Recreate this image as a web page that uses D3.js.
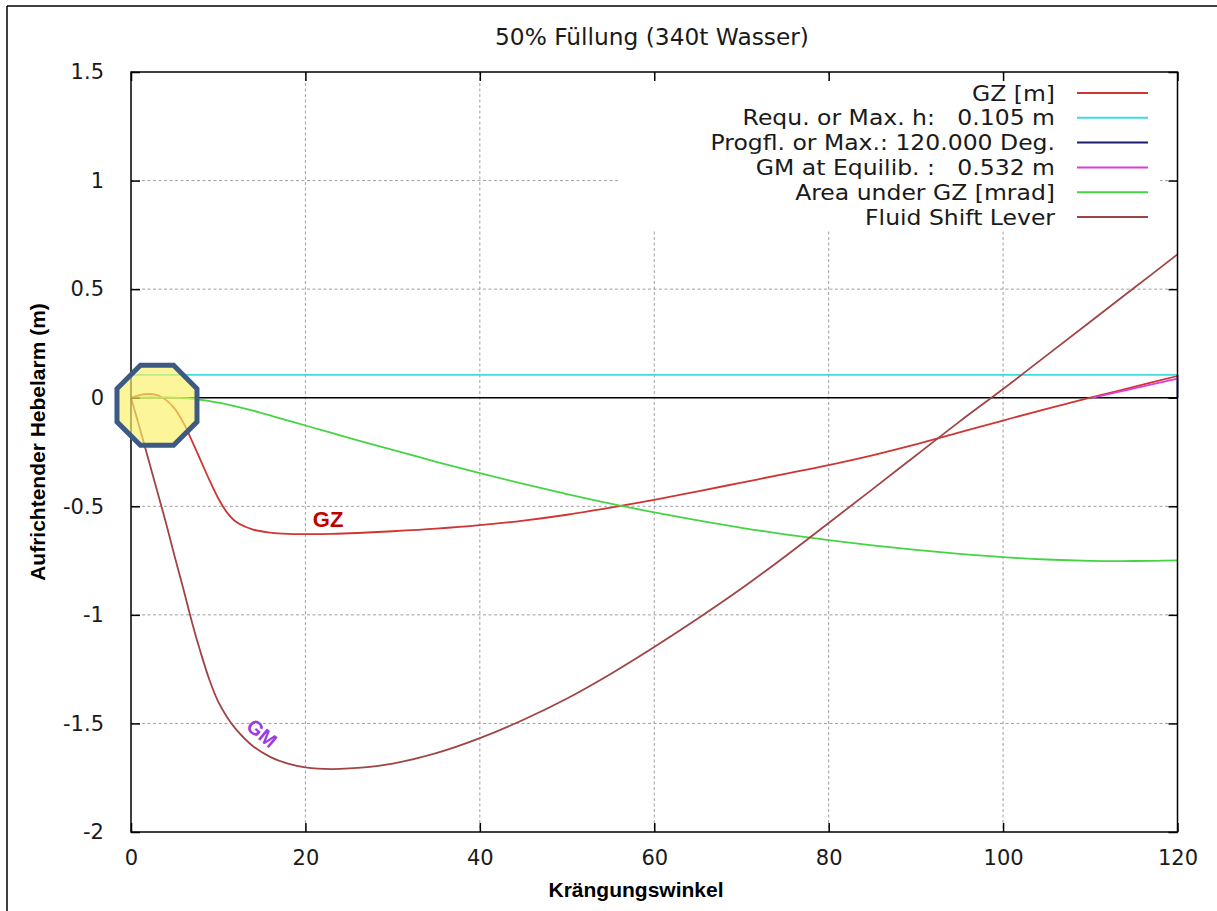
<!DOCTYPE html>
<html>
<head>
<meta charset="utf-8">
<script src="https://cdn.jsdelivr.net/npm/d3@7"></script>
<style>
  body { margin: 0; background: #fff; }
  svg { display: block; }
</style>
</head>
<body>
<div id="chart"></div>
<script>
// heel angles (deg) shared by the curves
var angles = [0,1,2,3,4,5,6,7,8,9,10,11,12,14,16,18,20,23,26,30,35,40,45,50,55,60,65,70,75,80,85,90,95,100,105,110,115,120];

var gzValues = [0,0.012,0.017,0.012,-0.01,-0.05,-0.115,-0.2,-0.29,-0.38,-0.463,-0.528,-0.57,-0.607,-0.621,-0.627,-0.628,-0.627,-0.623,-0.615,-0.603,-0.587,-0.566,-0.539,-0.506,-0.47,-0.431,-0.391,-0.351,-0.31,-0.265,-0.215,-0.16,-0.105,-0.051,0.0,0.05,0.10];

var areaValues = [0,0,0.001,0.001,0.001,0,-0.002,-0.005,-0.01,-0.016,-0.023,-0.031,-0.04,-0.06,-0.082,-0.105,-0.128,-0.162,-0.196,-0.24,-0.295,-0.347,-0.397,-0.444,-0.488,-0.528,-0.565,-0.599,-0.629,-0.656,-0.68,-0.701,-0.719,-0.734,-0.745,-0.751,-0.752,-0.749];

var shiftValues = [0,-0.14,-0.285,-0.43,-0.575,-0.73,-0.88,-1.035,-1.175,-1.3,-1.4,-1.47,-1.525,-1.605,-1.655,-1.685,-1.702,-1.71,-1.705,-1.685,-1.637,-1.568,-1.483,-1.385,-1.272,-1.148,-1.017,-0.879,-0.731,-0.577,-0.422,-0.266,-0.11,0.04,0.195,0.35,0.505,0.66];

var reqAngles = [0, 120];
var reqValues = [0.105, 0.105];
var progAngles = [120, 120];
var progValues = [0, 0.105];
var gmAngles = [110.3, 120];
var gmValues = [0, 0.088];

var legendNames = ["GZ [m]", "Requ. or Max. h:   0.105 m", "Progfl. or Max.: 120.000 Deg.", "GM at Equilib. :   0.532 m", "Area under GZ [mrad]", "Fluid Shift Lever"];
var legendColors = ["#d03434", "#40dcdc", "#1c1c6c", "#dc3cdc", "#44d444", "#a04444"];

var xTicks = [0,20,40,60,80,100,120];
var yTicks = [-2,-1.5,-1,-0.5,0,0.5,1,1.5];

var width = 1217, height = 911;
var padding = {left:131, right:39.5, top:72, bottom:79};

var svg = d3.select("#chart").append("svg")
	.attr("width", width)
	.attr("height", height);

// outer frame (top and left only)
svg.append("line").attr("x1", 7).attr("y1", 6).attr("x2", width).attr("y2", 6)
	.attr("stroke", "#000").attr("stroke-width", 1.5);
svg.append("line").attr("x1", 7).attr("y1", 6).attr("x2", 7).attr("y2", height)
	.attr("stroke", "#000").attr("stroke-width", 1.5);

var xScale = d3.scaleLinear().domain([0,120]).range([padding.left, width - padding.right]);
var yScale = d3.scaleLinear().domain([-2,1.5]).range([height - padding.bottom, padding.top]);

var x0 = xScale(0), x1 = xScale(120), y0 = yScale(-2), y1 = yScale(1.5);

// grid
var grid = svg.append("g").attr("class", "grid");
grid.selectAll(".vg").data(xTicks.slice(1, -1)).enter().append("line")
	.attr("x1", d => xScale(d)).attr("x2", d => xScale(d))
	.attr("y1", y1).attr("y2", y0)
	.attr("stroke", "#a0a0a0").attr("stroke-dasharray", "3,2.5");
grid.selectAll(".hg").data(yTicks.filter(d => d != 0 && d != -2 && d != 1.5)).enter().append("line")
	.attr("x1", x0).attr("x2", x1)
	.attr("y1", d => yScale(d)).attr("y2", d => yScale(d))
	.attr("stroke", "#a0a0a0").attr("stroke-dasharray", "3,2.5");

// zero line
svg.append("line").attr("x1", x0).attr("x2", x1)
	.attr("y1", yScale(0)).attr("y2", yScale(0))
	.attr("stroke", "#000").attr("stroke-width", 1.5);

// legend background covers the grid
svg.append("rect").attr("x", 620).attr("y", y1 + 2).attr("width", 540).attr("height", 156)
	.attr("fill", "#fff");

var line = d3.line()
	.curve(d3.curveCatmullRom.alpha(0.5))
	.x(d => xScale(d[0]))
	.y(d => yScale(d[1]));

function series(xs, ys) { return xs.map((a, i) => [a, ys[i]]); }

var curves = [
	{ data: series(angles, gzValues), color: legendColors[0] },
	{ data: series(reqAngles, reqValues), color: legendColors[1] },
	{ data: series(progAngles, progValues), color: legendColors[2] },
	{ data: series(gmAngles, gmValues), color: legendColors[3] },
	{ data: series(angles, areaValues), color: legendColors[4] },
	{ data: series(angles, shiftValues), color: legendColors[5] }
];

var plot = svg.append("g");
plot.selectAll("path").data(curves).enter().append("path")
	.attr("d", d => line(d.data))
	.attr("fill", "none")
	.attr("stroke", d => d.color)
	.attr("stroke-width", 1.8);

// legend (rows are tight, so a smaller font is stretched to the reference width)
var legend = svg.append("g").attr("font-family", "DejaVu Sans").attr("font-size", 21).attr("fill", "#1a1a1a");
legendNames.forEach(function(name, i) {
	var ly = 93 + i * 24.8;
	var t = legend.append("text").attr("x", 1055).attr("y", ly + 7.5)
		.attr("text-anchor", "end").attr("xml:space", "preserve").style("white-space", "pre").text(name);
	var w = t.node().getComputedTextLength();
	t.attr("textLength", w * 23.5 / 21).attr("lengthAdjust", "spacingAndGlyphs");
	legend.append("line").attr("x1", 1077).attr("x2", 1148).attr("y1", ly).attr("y2", ly)
		.attr("stroke", legendColors[i]).attr("stroke-width", 2);
});

// axes
var xAxis = d3.axisBottom(xScale).tickValues(xTicks).tickSizeInner(-9).tickSizeOuter(0).tickPadding(18).tickFormat(d3.format("d"));
var xAxisTop = d3.axisTop(xScale).tickValues(xTicks).tickSizeInner(-9).tickSizeOuter(0).tickFormat("");
var yAxis = d3.axisLeft(yScale).tickValues(yTicks).tickSizeInner(-9).tickSizeOuter(0).tickPadding(27).tickFormat(d => d3.format("")(d).replace("−", "-"));
var yAxisRight = d3.axisRight(yScale).tickValues(yTicks).tickSizeInner(-9).tickSizeOuter(0).tickFormat("");

function styleAxis(g) {
	g.select(".domain").remove();
	g.selectAll("line").attr("stroke", "#000").attr("stroke-width", 1.5);
	g.selectAll("text").attr("font-family", "DejaVu Sans").attr("font-size", 21).attr("fill", "#1a1a1a");
}

svg.append("g").attr("transform", "translate(0," + y0 + ")").call(xAxis).call(styleAxis);
svg.append("g").attr("transform", "translate(0," + y1 + ")").call(xAxisTop).call(styleAxis);
svg.append("g").attr("transform", "translate(" + x0 + ",0)").call(yAxis).call(styleAxis);
svg.append("g").attr("transform", "translate(" + x1 + ",0)").call(yAxisRight).call(styleAxis);

// plot border
svg.append("rect").attr("x", x0).attr("y", y1).attr("width", x1 - x0).attr("height", y0 - y1)
	.attr("fill", "none").attr("stroke", "#000").attr("stroke-width", 1.5);

// title and axis titles
svg.append("text").attr("x", 652).attr("y", 45).attr("text-anchor", "middle")
	.attr("font-family", "DejaVu Sans").attr("font-size", 23.3).attr("fill", "#1a1a1a")
	.text("50% Füllung (340t Wasser)");
svg.append("text").attr("x", 636).attr("y", 897).attr("text-anchor", "middle")
	.attr("font-family", "Liberation Sans").attr("font-weight", "bold").attr("font-size", 21)
	.text("Krängungswinkel");
svg.append("text").attr("transform", "translate(45,442) rotate(-90)").attr("text-anchor", "middle")
	.attr("font-family", "Liberation Sans").attr("font-weight", "bold").attr("font-size", 21)
	.text("Aufrichtender Hebelarm (m)");

// annotations
svg.append("text").attr("x", xScale(22.6)).attr("y", yScale(-0.56) + 8).attr("text-anchor", "middle")
	.attr("font-family", "Liberation Sans").attr("font-weight", "bold").attr("font-size", 22)
	.attr("fill", "#c00000").text("GZ");
svg.append("text")
	.attr("transform", "translate(" + xScale(15) + "," + yScale(-1.545) + ") rotate(40)")
	.attr("text-anchor", "middle").attr("dy", "0.35em")
	.attr("font-family", "Liberation Sans").attr("font-weight", "bold").attr("font-size", 20)
	.attr("fill", "#9a3ce0").text("GM");

// highlight octagon near the origin
var oc = [xScale(2.98), yScale(-0.035)], r = 43.3;
var pts = d3.range(8).map(function(i) {
	var a = Math.PI / 8 + i * Math.PI / 4;
	return [oc[0] + r * Math.cos(a), oc[1] + r * Math.sin(a)];
});
svg.append("polygon").attr("points", pts.map(p => p.join(",")).join(" "))
	.attr("fill", "rgb(252,240,100)").attr("fill-opacity", 0.65)
	.attr("stroke", "#3d5a85").attr("stroke-width", 5).attr("stroke-linejoin", "miter");
</script>
</body>
</html>
